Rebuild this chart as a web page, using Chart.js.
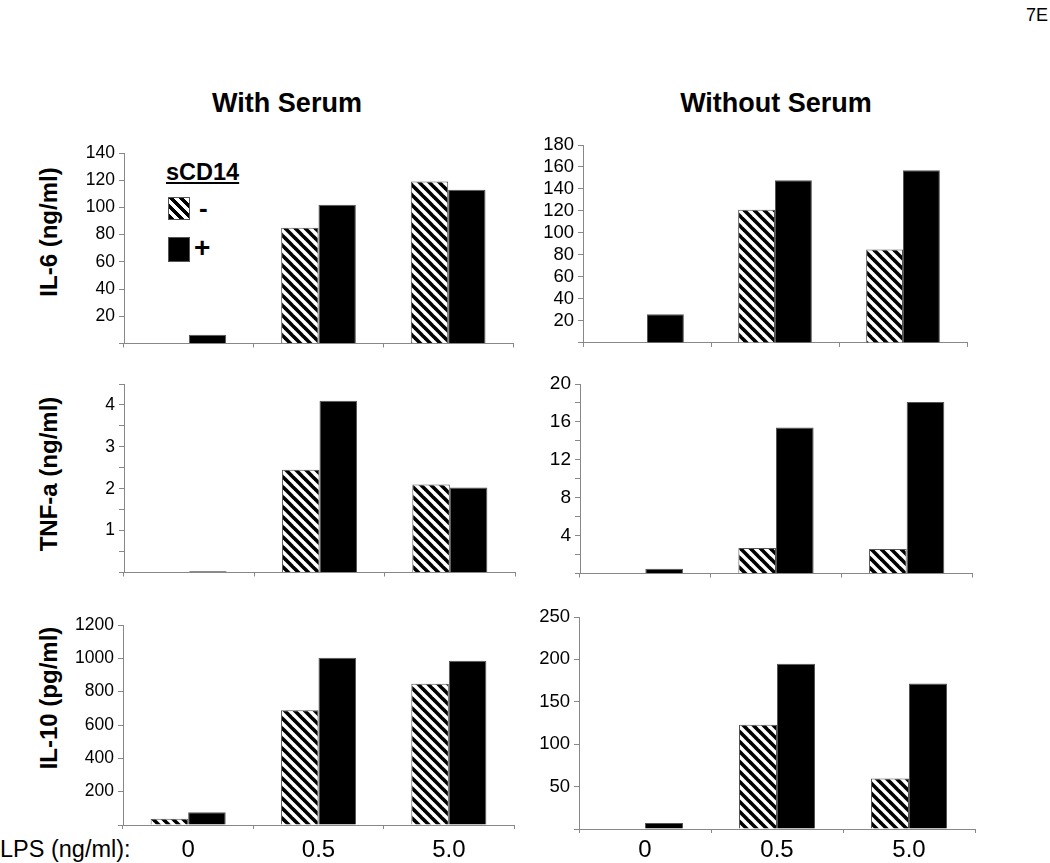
<!DOCTYPE html>
<html>
<head>
<meta charset="utf-8">
<script src="https://cdn.jsdelivr.net/npm/chart.js@4.4.1/dist/chart.umd.min.js"></script>
<style>
  body { margin: 0; background: #fff; }
  #page { position: relative; width: 1050px; height: 863px; font-family: 'Liberation Sans', Arial, sans-serif; color: #000; overflow: hidden; }
  #page canvas { position: absolute; }
  .txt { position: absolute; white-space: nowrap; line-height: 1; }
  .title { font-weight: bold; font-size: 27px; transform: translateX(-50%); }
  .ylab { font-weight: bold; font-size: 24px; transform: translate(-50%, -50%) rotate(-90deg); }
  .key { position: absolute; box-sizing: border-box; border: 1px solid #555; }
  .key.minus { background: repeating-linear-gradient(45deg, #000 0 3.6px, #fff 3.6px 7.1px); }
  .key.plus { background: #000; }
</style>
</head>
<body>
<div id="page">
  <div class="txt" style="right:2px;top:6px;font-size:18px;">7E</div>
  <div class="txt title" style="left:287px;top:90px;">With Serum</div>
  <div class="txt title" style="left:776px;top:90px;">Without Serum</div>

  <div class="txt ylab" style="left:49px;top:232px;">IL-6 (ng/ml)</div>
  <div class="txt ylab" style="left:49px;top:474px;">TNF-a (ng/ml)</div>
  <div class="txt ylab" style="left:49px;top:698px;">IL-10 (pg/ml)</div>

  <div class="txt" style="left:0px;top:838px;font-size:23.5px;">LPS (ng/ml):</div>

  <!-- sCD14 key inside the first panel -->
  <div class="txt" style="left:166px;top:161px;font-size:23.5px;font-weight:bold;text-decoration:underline;">sCD14</div>
  <div class="key minus" style="left:168px;top:197px;width:22px;height:23px;"></div>
  <div class="txt" style="left:199px;top:195px;font-size:26px;font-weight:bold;">-</div>
  <div class="key plus" style="left:168px;top:237px;width:22px;height:25px;"></div>
  <div class="txt" style="left:194px;top:234px;font-size:28px;font-weight:bold;">+</div>

  <canvas id="c1"></canvas>
  <canvas id="c2"></canvas>
  <canvas id="c3"></canvas>
  <canvas id="c4"></canvas>
  <canvas id="c5"></canvas>
  <canvas id="c6"></canvas>
</div>
<script>
const lpsLabels = ['0', '0.5', '5.0'];

// sCD14 "-" (hatched) and "+" (black)
const il6SerumMinus = [null, 85, 119];
const il6SerumPlus = [6.5, 102, 113];
const il6NoSerumMinus = [null, 121, 85];
const il6NoSerumPlus = [26, 148, 157];

const tnfSerumMinus = [null, 2.45, 2.1];
const tnfSerumPlus = [0.03, 4.1, 2.03];
const tnfNoSerumMinus = [null, 2.7, 2.6];
const tnfNoSerumPlus = [0.5, 15.4, 18.1];

const il10SerumMinus = [38, 688, 848];
const il10SerumPlus = [76, 1004, 986];
const il10NoSerumMinus = [null, 123, 59.5];
const il10NoSerumPlus = [7, 195, 171.5];

const Y_W = 60;
const PAD_T = 16;
const PAD_R = 6;
const AXIS = '#888';

// diagonal "\" stripes for the sCD14 "-" bars
function hatch() {
  const n = 10;
  const c = document.createElement('canvas');
  c.width = n;
  c.height = n;
  const g = c.getContext('2d');
  g.fillStyle = '#fff';
  g.fillRect(0, 0, n, n);
  g.strokeStyle = '#000';
  g.lineWidth = 3.6;
  for (const k of [-1, 0, 1]) {
    g.beginPath();
    g.moveTo(-1, k * n - 1);
    g.lineTo(n + 1, n + k * n + 1);
    g.stroke();
  }
  return g.createPattern(c, 'repeat');
}
const HATCH = hatch();

function panel(id, area, y, minus, plus, xLabels) {
  const canvas = document.getElementById(id);
  const xH = xLabels ? 50 : 8;
  const w = area.right - area.left + Y_W + PAD_R;
  const h = area.bottom - area.top + PAD_T + xH;
  canvas.width = w;
  canvas.height = h;
  canvas.style.left = (area.left - Y_W) + 'px';
  canvas.style.top = (area.top - PAD_T) + 'px';

  return new Chart(canvas, {
    type: 'bar',
    data: {
      labels: lpsLabels,
      datasets: [
        { label: '-', data: minus, backgroundColor: HATCH, borderColor: '#555', borderWidth: 1 },
        { label: '+', data: plus, backgroundColor: '#000', borderColor: '#555', borderWidth: 1 },
      ],
    },
    options: {
      responsive: false,
      animation: false,
      devicePixelRatio: 1,
      layout: { padding: { top: PAD_T, right: PAD_R, left: 0, bottom: 0 } },
      plugins: { legend: { display: false }, tooltip: { enabled: false } },
      datasets: { bar: { barPercentage: 1, categoryPercentage: 0.576 } },
      scales: {
        x: {
          grid: { drawOnChartArea: false, tickLength: 4, color: AXIS, offset: true },
          border: { color: AXIS },
          ticks: {
            display: !!xLabels,
            color: '#000',
            padding: xLabels || 0,
            font: { family: "'Liberation Sans', Arial", size: 24 },
          },
          afterFit: (s) => { s.height = xH; },
        },
        y: {
          min: 0,
          max: y.max,
          grid: { drawOnChartArea: false, tickLength: 5, color: AXIS },
          border: { color: AXIS },
          ticks: {
            stepSize: y.step,
            autoSkip: false,
            padding: 4,
            color: '#000',
            font: { family: "'Liberation Sans', Arial", size: y.font || 17.5 },
            callback: (v) => {
              if (v === 0) return '';
              const r = v / y.every;
              return Math.abs(r - Math.round(r)) < 1e-6 ? v : '';
            },
          },
          afterFit: (s) => { s.width = Y_W; },
        },
      },
    },
  });
}

panel('c1', { left: 124, top: 153, right: 513, bottom: 350 }, { max: 140, step: 20, every: 20 }, il6SerumMinus, il6SerumPlus);
panel('c2', { left: 583, top: 145, right: 967, bottom: 350 }, { max: 180, step: 20, every: 20, font: 18.5 }, il6NoSerumMinus, il6NoSerumPlus);
panel('c3', { left: 124, top: 384, right: 515, bottom: 579 }, { max: 4.5, step: 0.5, every: 1 }, tnfSerumMinus, tnfSerumPlus);
panel('c4', { left: 580, top: 384, right: 972, bottom: 581 }, { max: 20, step: 2, every: 4, font: 19 }, tnfNoSerumMinus, tnfNoSerumPlus);
panel('c5', { left: 123, top: 625, right: 514, bottom: 825 }, { max: 1200, step: 200, every: 200 }, il10SerumMinus, il10SerumPlus, 6.6);
panel('c6', { left: 579, top: 617, right: 975, bottom: 829 }, { max: 250, step: 50, every: 50, font: 18.5 }, il10NoSerumMinus, il10NoSerumPlus, 2.6);
</script>
</body>
</html>
